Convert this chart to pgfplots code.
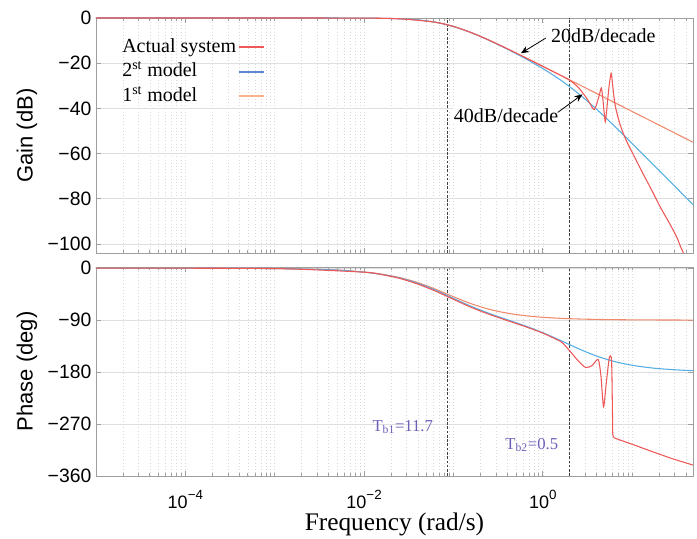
\documentclass[border=0pt]{standalone}
\usepackage{fontspec}
\setmainfont{Liberation Serif}
\setsansfont{Liberation Sans}
\usepackage{pgfplots}
\pgfplotsset{compat=1.18}
\usetikzlibrary{arrows.meta}

\definecolor{actual}{HTML}{EE5858}
\definecolor{secondm}{HTML}{55AEE3}
\definecolor{firstm}{HTML}{F08A6C}
\definecolor{legblue}{HTML}{5C86D6}
\definecolor{legorange}{HTML}{F8B28E}
\definecolor{tbcol}{HTML}{6B60B8}

\newcommand{\dec}[1]{10\raisebox{6.5pt}{\fontsize{10}{10}\selectfont #1}}

\tikzset{
  act/.style={actual, line width=0.8pt},
  sec/.style={secondm, line width=0.8pt},
  fir/.style={firstm, line width=0.8pt},
  vline/.style={black!75, line width=0.6pt, dash pattern=on 2pt off 1.2pt},
}

\begin{document}
\begin{tikzpicture}
\path[use as bounding box] (-72pt,13.5pt) rectangle (450.75pt,-390.75pt);

% ---------------- gain ----------------
\begin{axis}[
  scale only axis, width=447.75pt, height=176.25pt,
  at={(0,0)}, anchor=north west,
  xmode=log, xmin=1e-5, xmax=48,
  ymin=-104, ymax=0,
  axis line style={gray!75, line width=0.6pt},
  xtick={1e-4,1e-2,1},
  minor xtick={2e-5,3e-5,4e-5,5e-5,6e-5,7e-5,8e-5,9e-5,1e-4,
      2e-4,3e-4,4e-4,5e-4,6e-4,7e-4,8e-4,9e-4,1e-3,
      2e-3,3e-3,4e-3,5e-3,6e-3,7e-3,8e-3,9e-3,1e-2,
      2e-2,3e-2,4e-2,5e-2,6e-2,7e-2,8e-2,9e-2,1e-1,
      2e-1,3e-1,4e-1,5e-1,6e-1,7e-1,8e-1,9e-1,1,
      2,3,4,5,6,7,8,9,10,20,30,40},
  xticklabels={},
  ytick={-100,-80,-60,-40,-20,0},
  yticklabels={−100,−80,−60,−40,−20,0},
  tick align=inside,
  tick style={gray!75, line width=0.5pt},
  major tick length=4pt, minor tick length=2.5pt,
  xminorgrids, ymajorgrids,
  major grid style={gray!25, line width=0.5pt},
  minor grid style={gray!30, line width=0.4pt, dotted},
  yticklabel style={font=\fontsize{14.5}{16}\selectfont\sffamily},
  ylabel={Gain (dB)},
  ylabel style={font=\fontsize{16.5}{18}\selectfont\sffamily,
    at={(axis description cs:-0.1156,0.5)}, anchor=center},
  clip=false,
  legend style={at={(0.0346,0.933)}, anchor=north west, draw=none, fill=none,
    font=\fontsize{15}{18}\selectfont, row sep=2.4pt,
    nodes={inner sep=1pt, text height=10.5pt, text depth=3.5pt}},
  legend cell align=left, legend plot pos=right,
  legend image code/.code={\draw[#1, line width=1.6pt] (2pt,0pt) -- (21pt,0pt);},
]
\addlegendimage{actual}
\addlegendentry{Actual system}
\addlegendimage{legblue}
\addlegendentry{2\textsuperscript{st} model}
\addlegendimage{legorange}
\addlegendentry{1\textsuperscript{st} model}

\addplot[vline, forget plot] coordinates {(0.08547,-104) (0.08547,0)};
\addplot[vline, forget plot] coordinates {(2,-104) (2,0)};

% 1st model
\addplot[fir, smooth, forget plot] coordinates {
 (1e-5,0) (1e-4,0) (1e-3,-0.0006) (0.003981,-0.009) (0.00631,-0.024)
 (0.01,-0.059) (0.01585,-0.147) (0.02512,-0.360) (0.03981,-0.852)
 (0.0631,-1.888) (0.1,-3.743) (0.1585,-6.470) (0.2512,-9.836)
 (0.3981,-13.556) (0.631,-17.439) (1,-21.396) (1.585,-25.372)
 (2.512,-29.366) (3.981,-33.362) (6.31,-37.36) (10,-41.36)
 (15.85,-45.36) (25.12,-49.36) (47.86,-54.96)};
% 2nd model
\addplot[sec, smooth, forget plot] coordinates {
 (1e-5,0) (1e-4,0) (1e-3,-0.001) (0.003981,-0.009) (0.00631,-0.024)
 (0.01,-0.059) (0.01585,-0.147) (0.02512,-0.360) (0.03981,-0.854)
 (0.0631,-1.892) (0.1,-3.754) (0.1585,-6.497) (0.2512,-9.904)
 (0.3981,-13.725) (0.631,-17.851) (1,-22.365) (1.585,-27.488)
 (2.512,-33.478) (3.981,-40.318) (6.31,-47.755) (10,-55.510)
 (15.85,-63.408) (25.12,-71.366) (39.81,-79.350) (47.86,-82.547)};
% actual system
\addplot[act, smooth, tension=0.45, forget plot] coordinates {
 (1e-5,0) (1e-3,0) (0.01,-0.059) (0.02512,-0.36) (0.0631,-1.888)
 (0.1,-3.743) (0.1585,-6.47) (0.2512,-9.836) (0.3981,-13.556)
 (0.631,-17.44) (1,-21.40) (1.585,-25.37) (1.995,-27.5)
 (2.512,-30.8) (3.162,-36.0) (3.715,-40.5) (3.981,-38.5)
 (4.266,-34.5) (4.519,-31) (4.677,-35) (4.898,-43) (5.012,-46)
 (5.188,-41) (5.495,-31) (5.821,-24.5) (6.026,-29) (6.31,-36)
 (6.607,-40.5) (7.244,-46.5) (7.943,-51) (8.913,-55.5) (10.96,-62.5)
 (13.49,-69.5) (16.98,-77) (20.89,-84) (26.30,-91) (31.62,-97)
 (35.08,-101.5) (37.6,-104)};

\node[font=\fontsize{15}{18}\selectfont, anchor=center] at (axis cs:4.76,-7.6) {20dB/decade};
\draw[-{Stealth[length=6pt,width=5pt]}, line width=0.6pt] (axis cs:1.08,-8.9) -- (axis cs:0.57,-15.6);
\node[font=\fontsize{15}{18}\selectfont, anchor=center, fill=white, inner sep=1pt] at (axis cs:0.389,-43.1) {40dB/decade};
\draw[-{Stealth[length=6pt,width=5pt]}, line width=0.6pt] (axis cs:1.47,-41.8) -- (axis cs:2.78,-33.8);
\end{axis}

% ---------------- phase ----------------
\begin{axis}[
  scale only axis, width=447.75pt, height=156.75pt,
  at={(0,-186.75pt)}, anchor=north west,
  xmode=log, xmin=1e-5, xmax=48,
  ymin=-360, ymax=2,
  axis line style={gray!75, line width=0.6pt},
  xtick={1e-4,1e-2,1},
  minor xtick={2e-5,3e-5,4e-5,5e-5,6e-5,7e-5,8e-5,9e-5,1e-4,
      2e-4,3e-4,4e-4,5e-4,6e-4,7e-4,8e-4,9e-4,1e-3,
      2e-3,3e-3,4e-3,5e-3,6e-3,7e-3,8e-3,9e-3,1e-2,
      2e-2,3e-2,4e-2,5e-2,6e-2,7e-2,8e-2,9e-2,1e-1,
      2e-1,3e-1,4e-1,5e-1,6e-1,7e-1,8e-1,9e-1,1,
      2,3,4,5,6,7,8,9,10,20,30,40},
  xticklabels={\dec{−4},\dec{−2},\dec{0}},
  xticklabel style={font=\fontsize{13.5}{15}\selectfont\sffamily, anchor=base, yshift=-24pt},
  ytick={-360,-270,-180,-90,0},
  yticklabels={−360,−270,−180,−90,0},
  tick align=inside,
  tick style={gray!75, line width=0.5pt},
  major tick length=4pt, minor tick length=2.5pt,
  xminorgrids, ymajorgrids,
  major grid style={gray!25, line width=0.5pt},
  minor grid style={gray!30, line width=0.4pt, dotted},
  yticklabel style={font=\fontsize{14.5}{16}\selectfont\sffamily},
  ylabel={Phase (deg)},
  ylabel style={font=\fontsize{16.5}{18}\selectfont\sffamily,
    at={(axis description cs:-0.1156,0.5)}, anchor=center},
  xlabel={Frequency (rad/s)},
  xlabel style={font=\fontsize{19}{22}\selectfont,
    at={(axis description cs:0.5,0)}, yshift=-36pt, anchor=center},
  clip=false,
]
\addplot[vline] coordinates {(0.08547,-360) (0.08547,2)};
\addplot[vline] coordinates {(2,-360) (2,2)};

% 1st model
\addplot[fir, smooth] coordinates {
 (1e-5,0) (1e-4,-0.067) (1e-3,-0.670) (0.003981,-2.67) (0.00631,-4.22)
 (0.01,-6.67) (0.01585,-10.50) (0.02512,-16.37) (0.03981,-24.97)
 (0.0631,-36.42) (0.1,-49.47) (0.1585,-61.65) (0.2512,-71.21)
 (0.3981,-77.88) (0.631,-82.28) (1,-85.12) (1.585,-86.91)
 (2.512,-88.05) (3.981,-88.77) (6.31,-89.22) (10,-89.51)
 (15.85,-89.69) (25.12,-89.80) (47.86,-89.90)};
% 2nd model
\addplot[sec, smooth] coordinates {
 (1e-5,0) (1e-4,-0.07) (1e-3,-0.70) (0.003981,-2.78) (0.00631,-4.40)
 (0.01,-6.96) (0.01585,-10.95) (0.02512,-17.09) (0.03981,-26.11)
 (0.0631,-38.23) (0.1,-52.33) (0.1585,-66.18) (0.2512,-78.37)
 (0.3981,-89.14) (0.631,-99.79) (1,-111.69) (1.585,-125.31)
 (2.512,-139.52) (3.981,-152.10) (6.31,-161.63) (10,-168.20)
 (15.85,-172.50) (25.12,-175.25) (39.81,-177.00) (47.86,-177.51)};
% actual system
\addplot[act, smooth, tension=0.4] coordinates {
 (1e-5,0) (1e-3,-0.7) (0.01,-7.0) (0.01585,-11.2) (0.02512,-17.8)
 (0.03981,-27.5) (0.0631,-39.8) (0.1,-54) (0.1585,-68) (0.2512,-80)
 (0.3981,-90.6) (0.631,-101) (1,-112.5) (1.585,-127) (1.778,-134)
 (1.995,-143) (2.512,-161) (3.02,-172) (3.548,-169) (4.169,-158)
 (4.467,-185) (4.786,-240) (5.129,-200) (5.559,-155) (5.888,-160)
 (6.026,-250) (6.095,-290) (6.607,-295) (7.413,-298) (10,-305)
 (16.98,-318) (28.18,-330) (47.86,-341)};

\node[font=\fontsize{12.5}{14}\selectfont, text=tbcol] at (axis cs:0.0271,-275) {T\textsubscript{b1}=11.7};
\node[font=\fontsize{12.5}{14}\selectfont, text=tbcol] at (axis cs:0.755,-306) {T\textsubscript{b2}=0.5};
\end{axis}
\end{tikzpicture}
\end{document}
